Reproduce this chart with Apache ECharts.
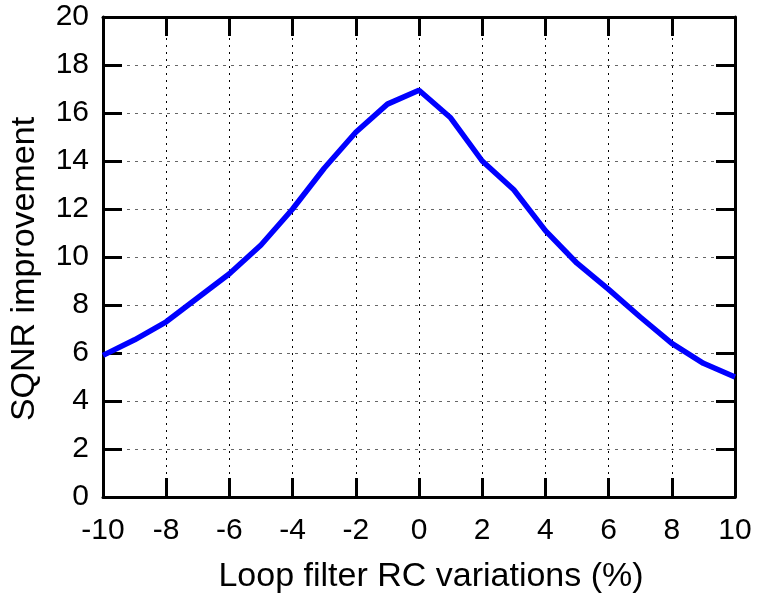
<!DOCTYPE html>
<html>
<head>
<meta charset="utf-8">
<script src="https://cdn.jsdelivr.net/npm/echarts@6/dist/echarts.min.js"></script>
<style>
html,body{margin:0;padding:0;background:#fff;}
#chart{width:758px;height:600px;}
</style>
</head>
<body>
<div id="chart"></div>
<script>
var xValues = [-10, -9, -8, -7, -6, -5, -4, -3, -2, -1, 0, 1, 2, 3, 4, 5, 6, 7, 8, 9, 10];
var sqnrImprovement = [5.9, 6.55, 7.3, 8.3, 9.3, 10.5, 12.0, 13.7, 15.2, 16.37, 16.95, 15.8, 14.0, 12.8, 11.1, 9.74, 8.65, 7.5, 6.4, 5.57, 5.0];
var xTicks = [-10, -8, -6, -4, -2, 0, 2, 4, 6, 8, 10];
var yTicks = [0, 2, 4, 6, 8, 10, 12, 14, 16, 18, 20];

var FONT = 'Liberation Sans, Arial, Helvetica, sans-serif';
var chart = echarts.init(document.getElementById('chart'), null, {renderer: 'canvas'});
var frameLine = {show: true, onZero: false, lineStyle: {color: '#000', width: 3}};
var tick = {show: true, inside: true, length: 19, lineStyle: {color: '#000', width: 3}};

var option = {
  backgroundColor: '#fff',
  animation: false,
  grid: {left: 102, right: 23, top: 17, bottom: 103, containLabel: false},
  xAxis: [{
    type: 'value', min: xTicks[0], max: xTicks[xTicks.length - 1], interval: 2,
    name: 'Loop filter RC variations (%)', nameLocation: 'middle', nameGap: 63,
    nameTextStyle: {fontFamily: FONT, fontSize: 34, color: '#000', padding: [0, 0, 0, 24]},
    axisLine: frameLine, axisTick: tick,
    axisLabel: {fontFamily: FONT, fontSize: 30, color: '#000', margin: 19},
    splitLine: {show: true, lineStyle: {color: '#000', width: 1, type: [2, 5]}}
  }, {
    type: 'value', position: 'top', min: xTicks[0], max: xTicks[xTicks.length - 1], interval: 2,
    axisLine: frameLine, axisTick: tick, axisLabel: {show: false}, splitLine: {show: false}
  }],
  yAxis: [{
    type: 'value', min: yTicks[0], max: yTicks[yTicks.length - 1], interval: 2,
    name: 'SQNR improvement', nameLocation: 'middle', nameGap: 61,
    nameTextStyle: {fontFamily: FONT, fontSize: 34, color: '#000', padding: [0, 24, 0, 0]},
    axisLine: frameLine, axisTick: tick,
    axisLabel: {fontFamily: FONT, fontSize: 30, color: '#000', margin: 14},
    splitLine: {show: true, lineStyle: {color: '#666', width: 1, type: [3, 5]}}
  }, {
    type: 'value', position: 'right', min: yTicks[0], max: yTicks[yTicks.length - 1], interval: 2,
    axisLine: frameLine, axisTick: tick, axisLabel: {show: false}, splitLine: {show: false}
  }],
  series: [{
    type: 'line',
    data: xValues.map(function (x, i) { return [x, sqnrImprovement[i]]; }),
    showSymbol: false,
    symbol: 'none',
    lineStyle: {color: '#0000ff', width: 5.5},
    z: 5
  }]
};
chart.setOption(option);
</script>
</body>
</html>
